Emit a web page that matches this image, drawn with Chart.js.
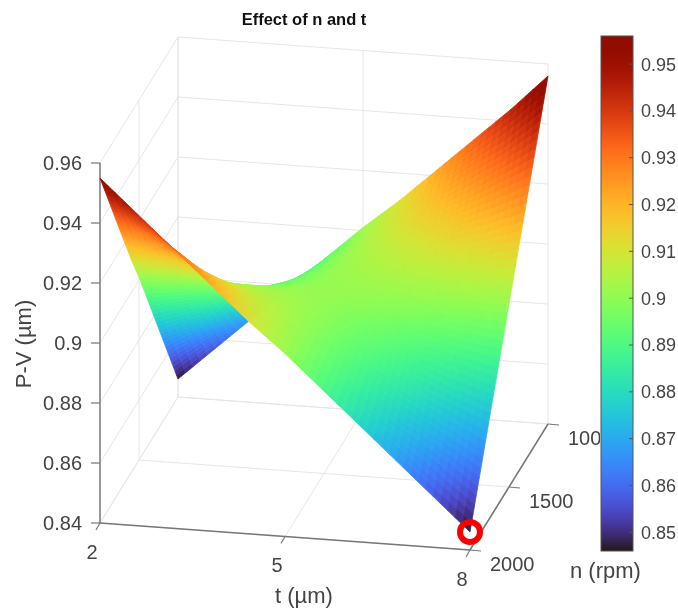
<!DOCTYPE html>
<html>
<head>
<meta charset="utf-8">
<title>Effect of n and t</title>
<script src="https://cdn.jsdelivr.net/npm/chart.js@4"></script>
<style>
  body { margin: 0; background: #fff; }
  canvas { position: absolute; top: 0; filter: blur(0.4px); }
  #surfaceChart { left: 0; }
  #colorbarChart { left: 600px; background: #fff; }
  #colorbarLabel {
    position: absolute; left: 570px; top: 558px; width: 70px; line-height: 26px;
    text-align: center; white-space: nowrap; color: #444; filter: blur(0.4px);
    font: 22px/26px "Liberation Sans", Arial, sans-serif;
  }
</style>
</head>
<body>
<canvas id="surfaceChart" width="678" height="611"></canvas>
<canvas id="colorbarChart" width="78" height="570"></canvas>
<div id="colorbarLabel">n (rpm)</div>
<script>
// Axis values
const tValues = [2, 2.6, 3.2, 3.8, 4.4, 5, 5.6, 6.2, 6.8, 7.4, 8];
const nValues = [1000, 1100, 1200, 1300, 1400, 1500, 1600, 1700, 1800, 1900, 2000];
const tTicks = [2, 5, 8];
const nTicks = [1000, 1500, 2000];
const pvTicks = [0.84, 0.86, 0.88, 0.9, 0.92, 0.94, 0.96];
const colorbarTicks = [0.85, 0.86, 0.87, 0.88, 0.89, 0.9, 0.91, 0.92, 0.93, 0.94, 0.95];

// P-V, one row per n, one column per t
const pvValues = [
  [0.846, 0.857, 0.868, 0.879, 0.890, 0.901, 0.911, 0.922, 0.933, 0.944, 0.956],
  [0.857, 0.866, 0.874, 0.883, 0.892, 0.901, 0.909, 0.918, 0.927, 0.935, 0.945],
  [0.868, 0.874, 0.881, 0.887, 0.894, 0.901, 0.907, 0.914, 0.920, 0.927, 0.934],
  [0.879, 0.883, 0.887, 0.892, 0.896, 0.901, 0.905, 0.909, 0.914, 0.918, 0.923],
  [0.890, 0.892, 0.894, 0.896, 0.898, 0.901, 0.903, 0.905, 0.907, 0.909, 0.912],
  [0.901, 0.901, 0.901, 0.901, 0.901, 0.901, 0.901, 0.901, 0.901, 0.901, 0.901],
  [0.911, 0.909, 0.907, 0.905, 0.903, 0.901, 0.898, 0.896, 0.894, 0.892, 0.890],
  [0.922, 0.918, 0.914, 0.909, 0.905, 0.901, 0.896, 0.892, 0.887, 0.883, 0.879],
  [0.933, 0.927, 0.920, 0.914, 0.907, 0.901, 0.894, 0.887, 0.881, 0.874, 0.868],
  [0.944, 0.935, 0.927, 0.918, 0.909, 0.901, 0.892, 0.883, 0.874, 0.866, 0.857],
  [0.955, 0.944, 0.933, 0.922, 0.911, 0.901, 0.890, 0.879, 0.868, 0.857, 0.846]
];
const pvMinPoint = { t: 8, n: 2000, pv: 0.846 };

const colorMin = 0.846;
const colorMax = 0.956;
const textColor = '#444';
const fontName = '"Liberation Sans", Arial, sans-serif';

// turbo colormap
function turbo(x) {
  x = Math.min(1, Math.max(0, x));
  const r = 0.13572138 + x * (4.6153926 + x * (-42.66032258 + x * (132.13108234 + x * (-152.94239396 + x * 59.28637943))));
  const g = 0.09140261 + x * (2.19418839 + x * (4.84296658 + x * (-14.18503333 + x * (4.27729857 + x * 2.82956604))));
  const b = 0.1066733 + x * (12.64194608 + x * (-60.58204836 + x * (110.36276771 + x * (-89.90310912 + x * 27.34824973))));
  const c = v => Math.round(255 * Math.min(1, Math.max(0, v)));
  return 'rgb(' + c(r) + ',' + c(g) + ',' + c(b) + ')';
}
function pvColor(pv) {
  return turbo((pv - colorMin) / (colorMax - colorMin));
}

// 3D view: maps (t, n, P-V) on the flat x/y scales of the chart
function project(t, n, pv) {
  const a = (t - 2) / 6;
  const b = (2000 - n) / 1000;
  const c = (pv - 0.84) / 0.12;
  return {
    x: 100 + a * 370 + b * 78,
    y: 523 + a * 27 - b * 126 - c * 360
  };
}

function lineSet(from, to, color, width) {
  return {
    data: [from, to],
    showLine: true,
    borderColor: color,
    borderWidth: width,
    pointRadius: 0,
    fill: false
  };
}

// every dataset in paint order, back to front
const layers = [];

// grid on the walls and the floor
const gridColor = '#e6e6e6';
pvTicks.forEach(pv => {
  layers.push(lineSet(project(2, 2000, pv), project(2, 1000, pv), gridColor, 1));
  layers.push(lineSet(project(2, 1000, pv), project(8, 1000, pv), gridColor, 1));
});
tTicks.forEach(t => {
  layers.push(lineSet(project(t, 1000, 0.84), project(t, 1000, 0.96), gridColor, 1));
  layers.push(lineSet(project(t, 2000, 0.84), project(t, 1000, 0.84), gridColor, 1));
});
nTicks.forEach(n => {
  layers.push(lineSet(project(2, n, 0.84), project(2, n, 0.96), gridColor, 1));
  layers.push(lineSet(project(2, n, 0.84), project(8, n, 0.84), gridColor, 1));
});

// axis lines and tick marks
const axisColor = '#777';
layers.push(lineSet(project(2, 2000, 0.84), project(2, 2000, 0.96), '#999', 2));
layers.push(lineSet(project(2, 2000, 0.84), project(8, 2000, 0.84), axisColor, 1.5));
layers.push(lineSet(project(8, 2000, 0.84), project(8, 1000, 0.84), axisColor, 1.5));
pvTicks.forEach(pv => {
  const p = project(2, 2000, pv);
  layers.push(lineSet(p, { x: p.x - 9, y: p.y }, axisColor, 1.2));
});
tTicks.forEach(t => {
  const p = project(t, 2000, 0.84);
  layers.push(lineSet(p, { x: p.x - 4, y: p.y + 7 }, axisColor, 1.2));
});
nTicks.forEach(n => {
  const p = project(8, n, 0.84);
  layers.push(lineSet(p, { x: p.x + 11, y: p.y + 1 }, axisColor, 1.2));
});

// surface, smooth shading inside each measured cell
const shadeSteps = 5;
function pvAt(i, j, u, v) {
  const a = pvValues[i][j], b = pvValues[i][j + 1];
  const c = pvValues[i + 1][j], d = pvValues[i + 1][j + 1];
  return (a * (1 - u) + b * u) * (1 - v) + (c * (1 - u) + d * u) * v;
}
function corner(i, j, u, v) {
  const t = tValues[j] + (tValues[j + 1] - tValues[j]) * u;
  const n = nValues[i] + (nValues[i + 1] - nValues[i]) * v;
  return project(t, n, pvAt(i, j, u, v));
}
for (let i = 0; i < nValues.length - 1; i++) {
  for (let v = 0; v < shadeSteps; v++) {
    for (let j = 0; j < tValues.length - 1; j++) {
      for (let u = 0; u < shadeSteps; u++) {
        const u0 = u / shadeSteps, u1 = (u + 1) / shadeSteps;
        const v0 = v / shadeSteps, v1 = (v + 1) / shadeSteps;
        const color = pvColor(pvAt(i, j, (u0 + u1) / 2, (v0 + v1) / 2));
        layers.push({
          data: [corner(i, j, u0, v0), corner(i, j, u1, v0), corner(i, j, u1, v1), corner(i, j, u0, v1), corner(i, j, u0, v0)],
          showLine: true,
          fill: 'shape',
          backgroundColor: color,
          borderColor: color,
          borderWidth: 0.8,
          pointRadius: 0
        });
      }
    }
  }
}

// red ring on the minimum
const ring = project(pvMinPoint.t, pvMinPoint.n, pvMinPoint.pv);
layers.push({
  data: [ring],
  pointRadius: 10,
  pointBorderWidth: 6,
  pointBorderColor: '#f80000',
  pointBackgroundColor: 'rgba(0,0,0,0)'
});

const axisText = {
  id: 'axisText',
  afterDraw(chart) {
    const { ctx, scales } = chart;
    const put = (text, x, y, size, weight, align, angle) => {
      ctx.save();
      ctx.translate(scales.x.getPixelForValue(x), scales.y.getPixelForValue(y));
      if (angle) ctx.rotate(angle);
      ctx.font = (weight || 'normal') + ' ' + size + 'px ' + fontName;
      ctx.fillStyle = weight ? '#111' : textColor;
      ctx.textAlign = align || 'center';
      ctx.textBaseline = 'middle';
      ctx.fillText(text, 0, 0);
      ctx.restore();
    };
    pvTicks.forEach(pv => {
      const p = project(2, 2000, pv);
      put(String(pv), p.x - 18, p.y + 1, 20, null, 'right');
    });
    tTicks.forEach(t => {
      const p = project(t, 2000, 0.84);
      put(String(t), p.x - 8, p.y + 30, 20);
    });
    nTicks.forEach(n => {
      const p = project(8, n, 0.84);
      put(String(n), p.x + 20, p.y + 15, 20, null, 'left');
    });
    put('Effect of n and t', 304, 20, 16.5, 'bold');
    put('P-V (µm)', 25, 344, 22, null, 'center', -Math.PI / 2);
    put('t (µm)', 304, 597, 22);
  }
};

new Chart(document.getElementById('surfaceChart'), {
  type: 'scatter',
  data: { datasets: layers.slice().reverse() },
  options: {
    responsive: false,
    animation: false,
    events: [],
    layout: { padding: 0, autoPadding: false },
    plugins: { legend: { display: false }, tooltip: { enabled: false } },
    scales: {
      x: { display: false, min: 0, max: 678 },
      y: { display: false, min: 0, max: 611, reverse: true }
    }
  },
  plugins: [axisText]
});

const colorbarFrame = {
  id: 'colorbarFrame',
  afterDraw(chart) {
    const { ctx, chartArea: a, scales } = chart;
    ctx.save();
    ctx.strokeStyle = '#555';
    ctx.lineWidth = 1;
    ctx.strokeRect(a.left, a.top, a.right - a.left, a.bottom - a.top);
    colorbarTicks.forEach(v => {
      const y = scales.y.getPixelForValue(v);
      ctx.beginPath();
      ctx.moveTo(a.right, y);
      ctx.lineTo(a.right - 4, y);
      ctx.stroke();
    });
    ctx.restore();
  }
};

new Chart(document.getElementById('colorbarChart'), {
  type: 'bar',
  data: {
    labels: ['P-V'],
    datasets: [{
      data: [[colorMin, colorMax]],
      barPercentage: 1,
      categoryPercentage: 1,
      backgroundColor(context) {
        const { ctx, chartArea } = context.chart;
        if (!chartArea) return '#888';
        const g = ctx.createLinearGradient(0, chartArea.bottom, 0, chartArea.top);
        for (let i = 0; i <= 32; i++) g.addColorStop(i / 32, turbo(i / 32));
        return g;
      }
    }]
  },
  options: {
    responsive: false,
    animation: false,
    events: [],
    layout: { padding: { left: 1, top: 36, right: 0, bottom: 19 }, autoPadding: false },
    plugins: { legend: { display: false }, tooltip: { enabled: false } },
    scales: {
      x: { display: false },
      y: {
        position: 'right',
        min: colorMin,
        max: colorMax,
        border: { display: false },
        grid: { display: false, drawTicks: false },
        afterBuildTicks(scale) { scale.ticks = colorbarTicks.map(value => ({ value })); },
        afterFit(scale) { scale.width = 45; },
        ticks: {
          padding: 8,
          labelOffset: 1.5,
          color: textColor,
          font: { family: fontName, size: 18 },
          callback: value => String(+value.toFixed(2))
        }
      }
    }
  },
  plugins: [colorbarFrame]
});
</script>
</body>
</html>
